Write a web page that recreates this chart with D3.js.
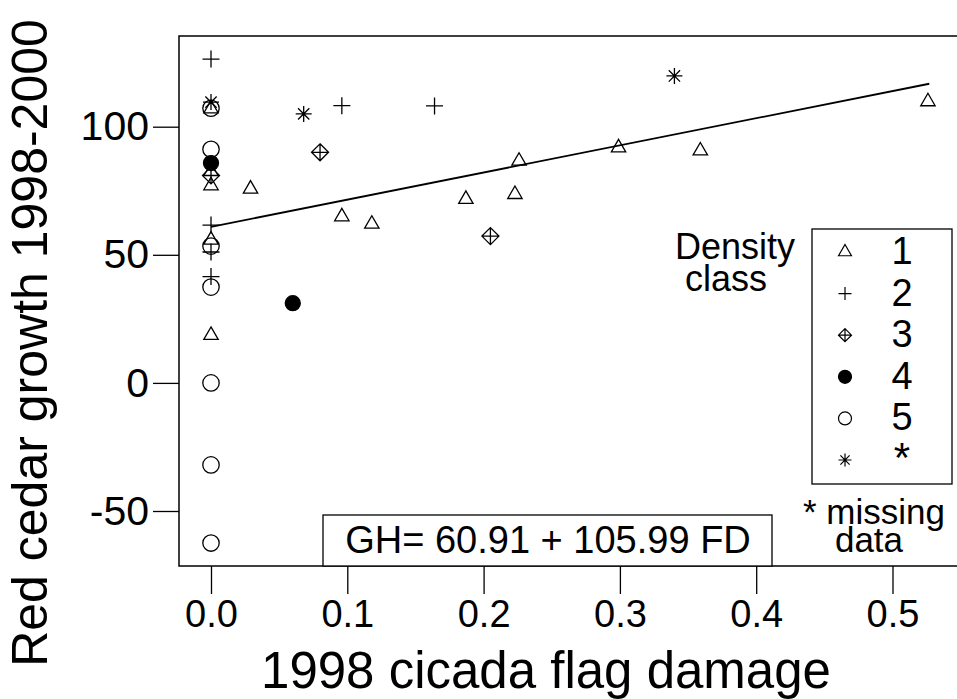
<!DOCTYPE html>
<html>
<head>
<meta charset="utf-8">
<script src="https://cdn.jsdelivr.net/npm/d3@7"></script>
<style>
  body { margin: 0; background: #fff; }
  svg { display: block; }
  text { font-family: "Liberation Sans", Arial, Helvetica, sans-serif; fill: #000; }
</style>
</head>
<body>
<div id="chart"></div>
<script>
// [flag damage, growth] per density class
const class1 = [[0, 107], [0, 82.5], [0, 77], [0, 55.8], [0, 18.6], [0.029, 75.7], [0.096, 64.9],
    [0.118, 62.0], [0.187, 71.7], [0.223, 73.6], [0.226, 86.6], [0.299, 91.8], [0.359, 90.6], [0.526, 109.8]]
const class2 = [[0, 126.4], [0, 61.6], [0, 51.1], [0, 41.5], [0.096, 108.2], [0.164, 108.1]]
const class3 = [[0, 81], [0.080, 90.0], [0.205, 57.3]]
const class4 = [[0, 85.8], [0.060, 31.1]]
const class5 = [[0, 107.2], [0, 91.2], [0, 53.4], [0, 37.4], [0, 0], [0, -32], [0, -62.5]]
const classMissing = [[0, 109.6], [0.068, 105.0], [0.340, 119.8]]

const xTicks = [0, 0.1, 0.2, 0.3, 0.4, 0.5]
const yTicks = [-50, 0, 50, 100]
const legendLabels = ["1", "2", "3", "4", "5", "*"]
const shapes = ["triangle", "plus", "diamond", "dot", "circle", "star"]
const fit = { intercept: 60.91, slope: 105.99, maxX: 0.527 }

const W = 957, H = 699

const svg = d3.select("#chart").append("svg")
    .attr("width", W)
    .attr("height", H)

const x = d3.scaleLinear().domain([0, 0.5]).range([211, 892.5])
const y = d3.scaleLinear().domain([-50, 100]).range([511, 126.7])

const box = { left: 179, top: 36, bottom: 566 }

// symbol paths, roughly R pch 2,3,9,16,1,8
const symbolPath = (type, r) => {
    const p = d3.path()
    if (type === "triangle") {
        const xc = r * 0.866
        p.moveTo(0, -r); p.lineTo(xc, r / 2); p.lineTo(-xc, r / 2); p.closePath()
    } else if (type === "plus") {
        p.moveTo(-r, 0); p.lineTo(r, 0); p.moveTo(0, -r); p.lineTo(0, r)
    } else if (type === "diamond") {
        p.moveTo(0, -r); p.lineTo(r, 0); p.lineTo(0, r); p.lineTo(-r, 0); p.closePath()
        p.moveTo(-r, 0); p.lineTo(r, 0); p.moveTo(0, -r); p.lineTo(0, r)
    } else if (type === "star") {
        const d = r * 0.707
        p.moveTo(-d, -d); p.lineTo(d, d); p.moveTo(-d, d); p.lineTo(d, -d)
        p.moveTo(-r, 0); p.lineTo(r, 0); p.moveTo(0, -r); p.lineTo(0, r)
    } else {
        p.arc(0, 0, r, 0, 2 * Math.PI)
    }
    return p.toString()
}

const drawSymbols = (g, data, type, r) => {
    g.selectAll(null)
        .data(data)
        .join("path")
        .attr("transform", d => `translate(${x(d[0])},${y(d[1])})`)
        .attr("d", symbolPath(type, r))
        .attr("fill", type === "dot" ? "#000" : "none")
        .attr("stroke", "#000")
        .attr("stroke-width", 1.3)
}

// plot frame (right side runs off the page)
svg.append("rect")
    .attr("x", box.left)
    .attr("y", box.top)
    .attr("width", 800)
    .attr("height", box.bottom - box.top)
    .attr("fill", "none")
    .attr("stroke", "#000")
    .attr("stroke-width", 1.5)

// axes
const xAxis = svg.append("g")
    .attr("transform", `translate(0,${box.bottom})`)
    .call(d3.axisBottom(x).tickValues(xTicks).tickFormat(d3.format(".1f")).tickSize(28).tickPadding(6))
const yAxis = svg.append("g")
    .attr("transform", `translate(${box.left},0)`)
    .call(d3.axisLeft(y).tickValues(yTicks).tickFormat(d => String(d)).tickSize(26).tickPadding(4))

;[xAxis, yAxis].forEach(a => {
    a.select(".domain").remove()
    a.selectAll(".tick line").attr("stroke", "#000").attr("stroke-width", 1.3)
    a.selectAll(".tick text")
        .attr("font-family", "\"Liberation Sans\", Arial, sans-serif")
        .attr("fill", "#000")
})
xAxis.selectAll(".tick text").attr("font-size", 38)
yAxis.selectAll(".tick text").attr("font-size", 41)

// axis titles
svg.append("text")
    .attr("x", 546)
    .attr("y", 688)
    .attr("text-anchor", "middle")
    .attr("font-size", 51)
    .text("1998 cicada flag damage")

svg.append("text")
    .attr("transform", "translate(47,343) rotate(-90)")
    .attr("text-anchor", "middle")
    .attr("font-size", 50)
    .text("Red cedar growth 1998-2000")

// regression line
svg.append("line")
    .attr("x1", x(0))
    .attr("y1", y(fit.intercept))
    .attr("x2", x(fit.maxX))
    .attr("y2", y(fit.intercept + fit.slope * fit.maxX))
    .attr("stroke", "#000")
    .attr("stroke-width", 1.8)

// points
const pts = svg.append("g")
drawSymbols(pts, class1, "triangle", 8.3)
drawSymbols(pts, class2, "plus", 8.5)
drawSymbols(pts, class3, "diamond", 8.5)
drawSymbols(pts, class4, "dot", 7.5)
drawSymbols(pts, class5, "circle", 8.2)
drawSymbols(pts, classMissing, "star", 8)

// equation box
svg.append("rect")
    .attr("x", 323)
    .attr("y", 515)
    .attr("width", 449)
    .attr("height", box.bottom - 515)
    .attr("fill", "#fff")
    .attr("stroke", "#000")
    .attr("stroke-width", 1.3)
svg.append("text")
    .attr("x", 548)
    .attr("y", 553)
    .attr("text-anchor", "middle")
    .attr("font-size", 38)
    .text(`GH= ${fit.intercept} + ${fit.slope} FD`)

// legend
svg.append("rect")
    .attr("x", 812)
    .attr("y", 229)
    .attr("width", 140)
    .attr("height", 255)
    .attr("fill", "#fff")
    .attr("stroke", "#000")
    .attr("stroke-width", 1.3)

const legend = svg.append("g")
legendLabels.forEach((lab, i) => {
    const ly = 252 + i * 41.6
    legend.append("path")
        .attr("transform", `translate(845,${ly})`)
        .attr("d", symbolPath(shapes[i], shapes[i] === "triangle" ? 7.5 : 6.5))
        .attr("fill", shapes[i] === "dot" ? "#000" : "none")
        .attr("stroke", "#000")
        .attr("stroke-width", 1.2)
    legend.append("text")
        .attr("x", 902)
        .attr("y", ly + 12)
        .attr("text-anchor", "middle")
        .attr("font-size", lab === "*" ? 42 : 38)
        .text(lab)
})

// two-line notes as single texts
const note = (lines, size) => {
    const t = svg.append("text")
        .attr("text-anchor", "middle")
        .attr("font-size", size)
    lines.forEach(l => t.append("tspan").attr("x", l.x).attr("y", l.y).text(l.s))
}
note([{ s: "Density", x: 735, y: 259 }, { s: "class", x: 726, y: 291 }], 36)
note([{ s: "* missing", x: 874, y: 524 }, { s: "data", x: 869, y: 552 }], 35)
</script>
</body>
</html>
